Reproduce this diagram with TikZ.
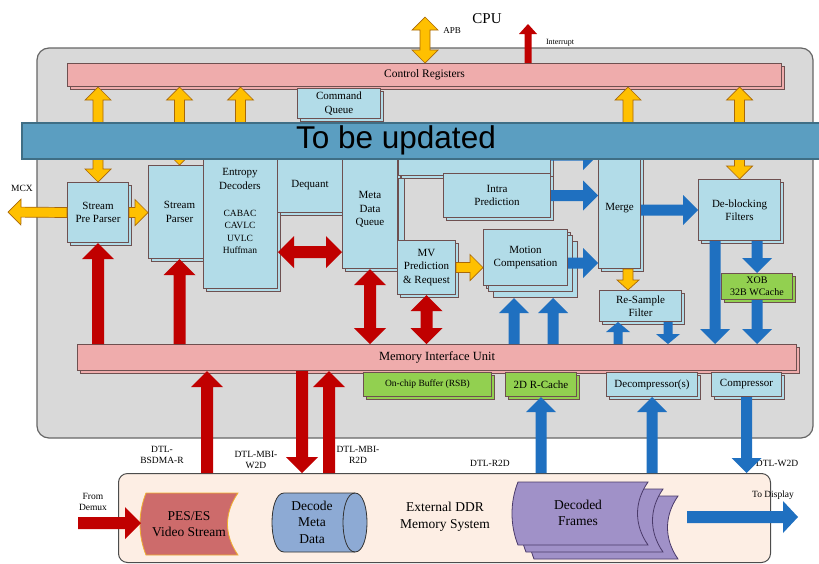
\documentclass[tikz,border=0pt]{standalone}
\usepackage{fontspec}
\setmainfont{Liberation Serif}
\newfontfamily\bannerfont{Liberation Sans}
\usetikzlibrary{calc,shadows}
\definecolor{lb}{HTML}{B2DCE8}
\definecolor{bdr}{HTML}{6E5050}
\definecolor{pk}{HTML}{EFACAC}
\definecolor{gr}{HTML}{92D050}
\definecolor{bgc}{HTML}{D9D9D9}
\definecolor{yl}{HTML}{FFC000}
\definecolor{yb}{HTML}{A8680A}
\definecolor{rd}{HTML}{C00000}
\definecolor{bl}{HTML}{1F70C0}
\definecolor{bann}{HTML}{5B9EC1}
\definecolor{bannb}{HTML}{3F6E85}
\definecolor{peach}{HTML}{FDEEE4}
\definecolor{pesc}{HTML}{CD6B6B}
\definecolor{pesb}{HTML}{F0B030}
\definecolor{cylc}{HTML}{8DAAD4}
\definecolor{purp}{HTML}{A091C8}
\definecolor{purb}{HTML}{4A3A6A}
% fat single arrow: style, from, to, half shaft, half head, head length
\newcommand\fatarrow[6]{%
  \coordinate (faS) at (#2);
  \coordinate (faE) at (#3);
  \coordinate (faC) at ($(faE)!#6!(faS)$);
  \path[#1] ($(faS)!#4!90:(faE)$) -- ($(faC)!#4!90:(faE)$) -- ($(faC)!#5!90:(faE)$) -- (faE)
     -- ($(faC)!#5!-90:(faE)$) -- ($(faC)!#4!-90:(faE)$) -- ($(faS)!#4!-90:(faE)$) -- cycle;}
% fat double arrow
\newcommand\fatdbl[6]{%
  \coordinate (faS) at (#2);
  \coordinate (faE) at (#3);
  \coordinate (faC) at ($(faS)!#6!(faE)$);
  \coordinate (faD) at ($(faE)!#6!(faS)$);
  \path[#1] (faS) -- ($(faC)!#5!90:(faE)$) -- ($(faC)!#4!90:(faE)$) -- ($(faD)!#4!90:(faE)$)
     -- ($(faD)!#5!90:(faE)$) -- (faE) -- ($(faD)!#5!-90:(faE)$) -- ($(faD)!#4!-90:(faE)$)
     -- ($(faC)!#4!-90:(faE)$) -- ($(faC)!#5!-90:(faE)$) -- cycle;}
\newcommand\yarr[2]{\fatarrow{yel}{#1}{#2}{5pt}{13pt}{13pt}}
\newcommand\ydbl[2]{\fatdbl{yel}{#1}{#2}{5pt}{13pt}{13pt}}
\newcommand\rarr[2]{\fatarrow{redA}{#1}{#2}{6pt}{16pt}{16pt}}
\newcommand\rdbl[2]{\fatdbl{redA}{#1}{#2}{6pt}{16pt}{16pt}}
\newcommand\barr[2]{\fatarrow{bluA}{#1}{#2}{5.5pt}{15pt}{15pt}}
\newcommand\sbarr[2]{\fatarrow{bluA}{#1}{#2}{4.5pt}{12pt}{10pt}}
\newcommand\docshape[5]{%
  \path[#1] (#2+6,#3) -- (#4,#3) .. controls (#4-14,#3+20) and (#4-14,#5-20) .. (#4,#5)
     -- (#2+6,#5) .. controls (#2-2,#5-20) and (#2-2,#3+20) .. (#2+6,#3) -- cycle;}
\tikzset{
  blk/.style={rectangle, draw=bdr, fill=lb, line width=1pt,
    copy shadow={shadow xshift=3pt, shadow yshift=-3pt},
    inner sep=1pt, align=center, anchor=north west,
    font=\fontsize{11}{13.5}\selectfont},
  pbar/.style={blk, fill=pk},
  gbox/.style={blk, fill=gr},
  yel/.style={fill=yl, draw=yb, line width=0.7pt},
  redA/.style={fill=rd},
  bluA/.style={fill=bl},
  lbl/.style={font=\fontsize{9.5}{11.5}\selectfont, align=center, inner sep=0pt},
  big/.style={font=\fontsize{13.5}{16.5}\selectfont, align=center, inner sep=0pt},
}
\begin{document}
\begin{tikzpicture}[x=1pt,y=-1pt]
\useasboundingbox (0,0) rectangle (819,563);
% chip
\path[draw=black!60, fill=bgc, rounded corners=12pt, line width=1.2pt] (37,48) rectangle (813,438);
% CPU side
\node[font=\fontsize{15}{15}\selectfont, inner sep=0pt] (cpu) at (487,19) {CPU};
\node[lbl, font=\fontsize{9}{10}\selectfont] (apb) at (452,31) {APB};
\node[lbl, font=\fontsize{8}{9}\selectfont] (intl) at (560,43) {Interrupt};
% control registers
\node[pbar, minimum width=714pt, minimum height=23pt, font=\fontsize{11.5}{13}\selectfont] (cr) at (67,63) {Control Registers};
\node[blk, minimum width=83pt, minimum height=30pt] (cq) at (297,88) {Command\\Queue};
% upper blocks
\node[blk, minimum width=61pt, minimum height=60pt] (spp) at (67,182) {Stream\\Pre Parser};
\node[blk, minimum width=62pt, minimum height=93pt] (sp) at (148,165) {Stream\\Parser};
\node[blk, minimum width=74pt, minimum height=138pt] (ed) at (203,150) {};
\node[inner sep=0pt, align=center, font=\fontsize{11}{13.5}\selectfont] (edt) at (240,179) {Entropy\\Decoders};
\node[inner sep=0pt, align=center, font=\fontsize{9.5}{12.5}\selectfont] (edl) at (240,232) {CABAC\\CAVLC\\UVLC\\Huffman};
\node[blk, minimum width=65pt, minimum height=54pt] (dq) at (277,158) {Dequant};
\node[blk, minimum width=55pt, minimum height=118pt] (mdq) at (342,150) {Meta\\Data\\Queue};
\node[blk, minimum width=152pt, minimum height=30pt] (it) at (398,145) {};
\path[draw=bdr, fill=lb, line width=1pt] (398,178) rectangle (404,242);
\node[blk, minimum width=107pt, minimum height=44pt] (ip) at (443,173) {Intra\\Prediction};
\node[blk, minimum width=58pt, minimum height=54pt] (mv) at (397,240) {MV\\Prediction\\\& Request};
\node[blk, minimum width=84pt, minimum height=56pt, double copy shadow={shadow xshift=5pt, shadow yshift=-6pt}] (mc) at (483,229) {Motion\\Compensation};
\node[blk, minimum width=42pt, minimum height=120pt] (mg) at (598,148) {Merge};
\node[blk, minimum width=82pt, minimum height=61pt] (dbf) at (698,179) {De-blocking\\Filters};
\node[blk, minimum width=82pt, minimum height=31pt] (rsf) at (599,290) {Re-Sample\\Filter};
\node[gbox, minimum width=71pt, minimum height=26pt, font=\fontsize{10}{12}\selectfont] (xob) at (721,273) {XOB\\32B WCache};
% memory interface
\node[pbar, minimum width=719pt, minimum height=26pt, font=\fontsize{12.5}{14}\selectfont] (miu) at (77,344) {Memory Interface Unit};
\node[gbox, minimum width=128pt, minimum height=24pt, font=\fontsize{9.5}{11}\selectfont] (ocb) at (363,372) {On-chip Buffer (RSB)};
\node[gbox, minimum width=71pt, minimum height=24pt] (r2c) at (505,372) {2D R-Cache};
\node[blk, minimum width=91pt, minimum height=24pt] (dcp) at (606,372) {Decompressor(s)};
\node[blk, minimum width=70pt, minimum height=24pt] (cmp) at (711,372) {Compressor};
% external memory
\node[draw=black!70, fill=peach, rounded corners=9pt, line width=1pt, minimum width=652pt, minimum height=89pt, anchor=north west] (ext) at (118,473) {};
\docshape{draw=pesb, fill=pesc, line width=0.8pt}{140}{493}{238}{555}
\node[big] (pes) at (189,524) {PES/ES\\Video Stream};
\path[draw=black!80, fill=cylc, line width=0.8pt] (284,493) -- (355,493) .. controls (371,493) and (371,552) .. (355,552) -- (284,552) .. controls (268,552) and (268,493) .. (284,493) -- cycle;
\draw[black!80, line width=0.8pt] (355,493) .. controls (339,493) and (339,552) .. (355,552);
\node[big] (dmd) at (312,522) {Decode\\Meta\\Data};
\node[big] (extl) at (445,517) {External DDR\\Memory System};
\docshape{draw=purb, fill=purp, line width=0.8pt}{528}{496}{678}{559}
\docshape{draw=purb, fill=purp, line width=0.8pt}{520}{489}{663}{552}
\docshape{draw=purb, fill=purp, line width=0.8pt}{512}{482}{648}{545}
\node[big] (dfr) at (578,513) {Decoded\\Frames};
% labels
\node[lbl] (mcxl) at (22,188) {MCX};
\node[lbl] (l1) at (162,455) {DTL-\\BSDMA-R};
\node[lbl] (l2) at (256,460) {DTL-MBI-\\W2D};
\node[lbl] (l3) at (358,455) {DTL-MBI-\\R2D};
\node[lbl] (l4) at (490,463) {DTL-R2D};
\node[lbl] (l5) at (777,463) {DTL-W2D};
\node[lbl] (l6) at (93,502) {From\\Demux};
\node[lbl] (l7) at (773,495) {To Display};
% helper coordinates
\coordinate (apbT) at (425,17);
\coordinate (intT) at (528,24);
\coordinate (intx) at (528,0);
\coordinate (mgx) at (628,0);
\coordinate (mcx) at (8,212);
\coordinate (rdy) at (0,252);
\coordinate (r1x) at (207,0);
\coordinate (r2x) at (302,0);
\coordinate (r3x) at (329,0);
\coordinate (demux) at (78,523);
\coordinate (pesL) at (141,523);
\coordinate (bty) at (0,155);
\coordinate (mcy) at (0,263);
\coordinate (mcb) at (0,298);
\coordinate (b5x) at (715,0);
\coordinate (b8x) at (514,0);
\coordinate (b9x) at (553,0);
\coordinate (b10x) at (618,0);
\coordinate (b11x) at (668,0);
\coordinate (dispS) at (687,517);
\coordinate (dispE) at (798,517);
% yellow arrows
\ydbl{apbT}{cr.north -| apbT}
\ydbl{cr.south -| spp.north}{spp.north}
\ydbl{cr.south -| sp.north}{sp.north}
\ydbl{cr.south -| ed.north}{ed.north}
\ydbl{cr.south -| mgx}{mg.north -| mgx}
\ydbl{cr.south -| dbf.north}{dbf.north}
\yarr{spp.west}{mcx}
\yarr{spp.east}{sp.west |- spp.east}
\yarr{mv.east}{mc.west |- mv.east}
\fatarrow{yel}{mg.south -| mgx}{rsf.north -| mgx}{5pt}{11pt}{10pt}
% red arrows
\fatarrow{redA}{cr.north -| intx}{intT}{3.5pt}{9pt}{10pt}
\rarr{miu.north -| spp.south}{spp.south}
\rarr{miu.north -| sp.south}{sp.south}
\rdbl{ed.east |- rdy}{mdq.west |- rdy}
\rdbl{mdq.south}{miu.north -| mdq.south}
\rdbl{mv.south}{miu.north -| mv.south}
\rarr{ext.north -| r1x}{miu.south -| r1x}
\rarr{miu.south -| r2x}{ext.north -| r2x}
\rarr{ext.north -| r3x}{miu.south -| r3x}
\rarr{demux}{pesL}
% blue arrows
\barr{it.east |- bty}{mg.west |- bty}
\barr{ip.east}{mg.west |- ip.east}
\barr{mc.east |- mcy}{mg.west |- mcy}
\barr{mg.east |- dbf.west}{dbf.west}
\barr{dbf.south -| b5x}{miu.north -| b5x}
\barr{dbf.south -| xob.north}{xob.north}
\barr{xob.south}{miu.north -| xob.south}
\barr{miu.north -| b8x}{mcb -| b8x}
\barr{miu.north -| b9x}{mcb -| b9x}
\sbarr{miu.north -| b10x}{rsf.south -| b10x}
\sbarr{rsf.south -| b11x}{miu.north -| b11x}
\barr{ext.north -| r2c.south}{r2c.south}
\barr{ext.north -| dcp.south}{dcp.south}
\barr{cmp.south}{ext.north -| cmp.south}
\fatarrow{bluA}{dispS}{dispE}{6pt}{16pt}{15pt}
% banner
\node[draw=bannb, fill=bann, line width=1.5pt, minimum width=798pt, minimum height=36pt, anchor=north west] (ban) at (21,122) {};
\node[font=\bannerfont\fontsize{31.5}{31.5}\selectfont, inner sep=0pt] (bant) at (396,140) {To be updated};
\end{tikzpicture}
\end{document}
